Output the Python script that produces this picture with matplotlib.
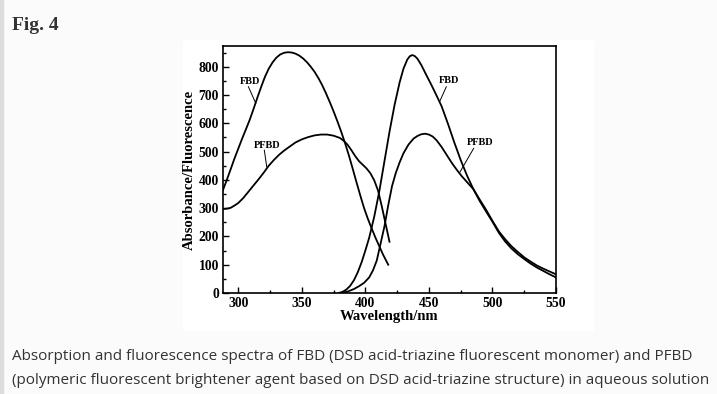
import matplotlib.pyplot as plt
from matplotlib.patches import Rectangle
from matplotlib.ticker import MultipleLocator

# absorption spectra (nm, a.u.)
abs_fbd_x = [288, 291, 294, 297, 300, 303, 306, 309, 312, 315, 318, 321, 324, 327, 330,
             333, 336, 339, 342, 345, 348, 351, 354, 357, 360, 363, 366, 369, 372, 375,
             378, 381, 384, 387, 390, 393, 396, 399, 402, 405, 408, 411, 414, 418]
abs_fbd_y = [364, 400, 437, 475, 510, 545, 578, 612, 650, 690, 728, 764, 793, 815, 832,
             843, 849, 851, 850, 846, 839, 829, 816, 800, 782, 760, 735, 706, 675, 642,
             607, 570, 530, 487, 440, 392, 345, 300, 262, 228, 195, 165, 135, 100]

abs_pfbd_x = [288, 291, 294, 297, 300, 304, 308, 312, 316, 320, 324, 328, 332, 336, 340,
              345, 350, 355, 360, 365, 370, 375, 380, 383, 386, 389, 392, 395, 398, 401,
              404, 407, 410, 413, 416, 419]
abs_pfbd_y = [297, 298, 301, 309, 318, 336, 358, 380, 402, 425, 450, 470, 488, 503, 516,
              532, 543, 551, 557, 560, 560, 556, 548, 538, 524, 505, 484, 466, 453, 440,
              423, 398, 362, 305, 243, 181]

# fluorescence spectra
fl_fbd_x = [379, 382, 385, 388, 391, 394, 397, 400, 403, 407, 411, 415, 419, 423, 427,
            430, 433, 435, 437, 439, 441, 444, 448, 452, 456, 460, 465, 470, 475, 480,
            485, 490, 495, 500, 505, 510, 515, 520, 525, 530, 535, 540, 545, 550]
fl_fbd_y = [0, 4, 12, 25, 45, 73, 108, 150, 195, 270, 360, 465, 570, 665, 745,
            793, 825, 837, 841, 837, 828, 806, 770, 735, 698, 660, 598, 532, 470, 415,
            367, 325, 288, 252, 213, 182, 157, 137, 120, 104, 90, 78, 66, 55]

fl_pfbd_x = [381, 386, 391, 395, 399, 403, 406, 409, 412, 415, 418, 421, 424, 427, 430,
             434, 438, 441, 444, 447, 450, 453, 456, 460, 464, 468, 472, 476, 480, 485,
             490, 495, 500, 505, 510, 515, 520, 525, 530, 535, 540, 545, 550]
fl_pfbd_y = [0, 5, 14, 24, 36, 55, 80, 115, 175, 235, 310, 378, 425, 462, 494,
             525, 546, 555, 561, 563, 560, 553, 540, 516, 488, 460, 435, 412, 392, 367,
             330, 294, 255, 218, 190, 165, 145, 126, 111, 97, 86, 76, 66]

caption = ["Absorption and fluorescence spectra of FBD (DSD acid-triazine fluorescent monomer) and PFBD",
           "(polymeric fluorescent brightener agent based on DSD acid-triazine structure) in aqueous solution"]

W, H = 717, 394
fig = plt.figure(figsize=(W / 100, H / 100), dpi=100, facecolor='#fbfbfb')

# page decorations
fig.patches.append(Rectangle((0, 0), 3 / W, 1, transform=fig.transFigure,
                             color='#dcdcdc', zorder=-2))
fig.patches.append(Rectangle((183 / W, 1 - 330 / H), 410 / W, 290 / H,
                             transform=fig.transFigure, color='white', zorder=-2))
fig.text(12 / W, 1 - 25 / H, "Fig. 4", family='Liberation Serif', weight='bold',
         fontsize=14, color='#333333', va='center')
cap_texts = []
for i, line in enumerate(caption):
    cap_texts.append(fig.text(12 / W, 1 - (357 + 23 * i) / H, line, family='Open Sans',
                              fontsize=11, color='#333333', va='center'))

ax = fig.add_axes([223 / W, 1 - 293 / H, 333 / W, 247 / H])
ax.set_zorder(1)
ax.set_facecolor('white')
lw = 1.3
ax.plot(abs_fbd_x, abs_fbd_y, color='black', lw=lw)
ax.plot(abs_pfbd_x, abs_pfbd_y, color='black', lw=lw)
ax.plot(fl_fbd_x, fl_fbd_y, color='black', lw=lw)
ax.plot(fl_pfbd_x, fl_pfbd_y, color='black', lw=lw)

ax.set_xlim(288, 550)
ax.set_ylim(0, 873)
ax.xaxis.set_major_locator(MultipleLocator(50))
ax.xaxis.set_minor_locator(MultipleLocator(25))
ax.yaxis.set_major_locator(MultipleLocator(100))
ax.yaxis.set_minor_locator(MultipleLocator(50))
ax.tick_params(which='both', direction='in', top=False, right=False, width=1)
ax.tick_params(which='major', length=4, pad=3)
ax.tick_params(which='minor', length=2)
for s in ax.spines.values():
    s.set_linewidth(1.2)
for lab in ax.get_xticklabels() + ax.get_yticklabels():
    lab.set_family('Liberation Serif')
    lab.set_weight('bold')
    lab.set_fontsize(9.8)

ax.set_xlabel("Wavelength/nm", family='Liberation Serif', weight='bold',
              fontsize=10.5, labelpad=0)
ax.set_ylabel("Absorbance/Fluorescence", family='Liberation Serif', weight='bold',
              fontsize=10.5, labelpad=2)

# curve labels with pointer lines
lab_kw = dict(family='Liberation Serif', weight='bold', fontsize=7.5,
              ha='center', va='center')
ax.text(309.5, 747, "FBD", **lab_kw)
ax.plot([308, 313.8], [729, 670], color='black', lw=0.7)
ax.text(322.5, 523, "PFBD", **lab_kw)
ax.plot([320.5, 322.4], [505, 446], color='black', lw=0.7)
ax.text(465.5, 750, "FBD", **lab_kw)
ax.plot([463.7, 458.4], [729, 676], color='black', lw=0.7)
ax.text(490.5, 531, "PFBD", **lab_kw)
ax.plot([485.2, 474.5], [511, 428], color='black', lw=0.7)

# one caption size, chosen so the longer line spans ~695 px as in the page
fig.canvas.draw()
r = fig.canvas.get_renderer()
wmax = max(t.get_window_extent(r).width for t in cap_texts)
for t in cap_texts:
    t.set_fontsize(t.get_fontsize() * 695 / wmax)

fig.savefig('out.png', dpi=100, facecolor=fig.get_facecolor())
